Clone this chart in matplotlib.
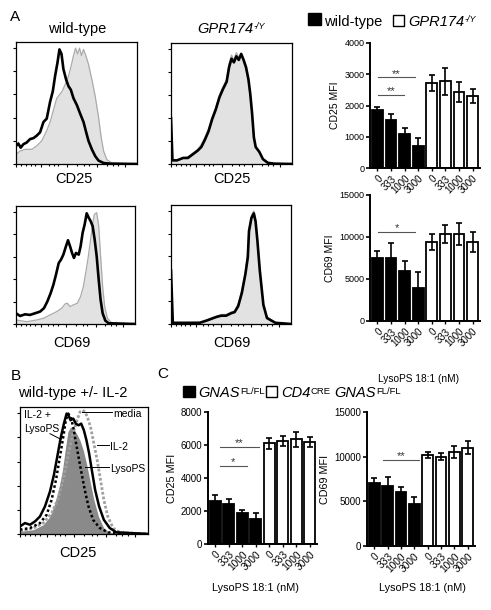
import matplotlib
matplotlib.use("Agg")
import matplotlib.pyplot as plt
import numpy as np
from matplotlib.patches import Rectangle

plt.rcParams['font.family'] = ['Liberation Sans', 'DejaVu Sans']

W, H = 491, 610

## histogram traces (x = fraction of channel range, y = fraction of max)
wt_cd25_lyso = [(0, .148), (.019, .168), (.039, .134), (.061, .162), (.088, .176), (.116, .204),
                (.144, .212), (.171, .232), (.199, .26), (.227, .344), (.254, .372), (.282, .511),
                (.304, .595), (.323, .721), (.343, .832), (.359, .939), (.376, .902), (.392, .777),
                (.414, .693), (.434, .637), (.453, .609), (.475, .539), (.503, .483), (.53, .413),
                (.558, .344), (.58, .26), (.599, .19), (.627, .12), (.655, .064), (.682, .028),
                (.724, .008), (.779, .003), (1, 0)]
wt_cd25_ctrl = [(0, .078), (.033, .106), (.075, .12), (.13, .12), (.171, .148), (.213, .19),
                (.254, .274), (.282, .344), (.309, .441), (.337, .539), (.359, .567), (.381, .595),
                (.406, .651), (.434, .721), (.456, .804), (.475, .888), (.492, .95), (.508, .902),
                (.525, .95), (.541, .888), (.558, .939), (.577, .888), (.599, .818), (.627, .693),
                (.655, .553), (.682, .385), (.704, .218), (.724, .106), (.751, .036), (.793, .008),
                (1, 0)]
ko_cd25_lyso = [(0, .38), (.012, .03), (.05, .03), (.1, .05), (.14, .05), (.18, .08), (.22, .11),
                (.25, .14), (.28, .2), (.31, .27), (.34, .37), (.37, .45), (.4, .55), (.43, .62),
                (.46, .68), (.48, .8), (.5, .87), (.52, .84), (.54, .89), (.56, .86), (.58, .91),
                (.6, .86), (.62, .8), (.64, .7), (.655, .58), (.67, .42), (.685, .22), (.7, .14),
                (.73, .1), (.76, .04), (.8, .01), (.85, .003), (1, 0)]
ko_cd25_ctrl = [(0, .03), (.05, .03), (.1, .05), (.14, .06), (.18, .09), (.22, .12), (.25, .16),
                (.28, .22), (.31, .29), (.34, .39), (.37, .47), (.4, .57), (.43, .64), (.46, .7),
                (.48, .83), (.5, .9), (.52, .86), (.54, .92), (.56, .88), (.58, .9), (.6, .85),
                (.62, .78), (.64, .68), (.655, .56), (.67, .4), (.685, .22), (.7, .14), (.73, .1),
                (.76, .04), (.8, .01), (.85, .003), (1, 0)]
wt_cd69_lyso = [(0, .091), (.034, .068), (.076, .082), (.118, .077), (.16, .091), (.202, .105),
                (.235, .134), (.263, .19), (.291, .261), (.314, .332), (.336, .418), (.359, .517),
                (.378, .545), (.398, .588), (.42, .659), (.437, .71), (.454, .659), (.471, .602),
                (.487, .56), (.504, .602), (.527, .588), (.543, .659), (.56, .773), (.577, .844),
                (.594, .938), (.611, .901), (.627, .872), (.644, .83), (.661, .716), (.678, .574),
                (.695, .375), (.711, .205), (.728, .091), (.751, .028), (.779, .006), (1, 0)]
wt_cd69_ctrl = [(0, .034), (.09, .02), (.174, .034), (.23, .048), (.286, .077), (.342, .105),
                (.384, .134), (.412, .17), (.431, .176), (.454, .148), (.482, .162), (.515, .176),
                (.543, .233), (.566, .318), (.588, .446), (.608, .574), (.627, .716), (.644, .844),
                (.658, .929), (.678, .943), (.695, .83), (.711, .574), (.728, .318), (.745, .148),
                (.768, .048), (.804, .011), (1, 0)]
ko_cd69_lyso = [(0, .45), (.015, .01), (.1, .01), (.24, .01), (.3, .03), (.38, .06), (.42, .07),
                (.46, .07), (.5, .09), (.53, .1), (.56, .15), (.59, .26), (.62, .42), (.64, .56),
                (.65, .78), (.67, .89), (.69, .93), (.705, .86), (.72, .7), (.74, .45), (.77, .16),
                (.8, .05), (.87, .01), (1, 0)]
ko_cd69_ctrl = [(0, .01), (.1, .01), (.24, .015), (.3, .035), (.38, .065), (.42, .08), (.46, .08),
                (.5, .1), (.53, .11), (.56, .17), (.59, .28), (.62, .44), (.64, .6), (.65, .8),
                (.67, .91), (.69, .95), (.705, .88), (.72, .72), (.74, .46), (.77, .17), (.8, .06),
                (.87, .01), (1, 0)]

b_il2_lyso = [(0, .06), (.039, .086), (.078, .073), (.117, .099), (.156, .138), (.195, .217),
              (.234, .334), (.265, .465), (.291, .608), (.317, .752), (.343, .869), (.364, .948),
              (.379, .935), (.395, .896), (.416, .909), (.436, .869), (.457, .856), (.478, .869),
              (.499, .817), (.519, .739), (.54, .634), (.561, .504), (.587, .347), (.618, .217),
              (.655, .112), (.701, .047), (.753, .013), (1, 0)]
b_lyso = [(0, .034), (.078, .047), (.156, .086), (.208, .151), (.247, .269), (.281, .426),
          (.312, .608), (.338, .765), (.358, .896), (.377, .948), (.395, .922), (.416, .843),
          (.436, .726), (.457, .608), (.481, .478), (.506, .347), (.535, .217), (.571, .112),
          (.623, .047), (.688, .013), (1, 0)]
b_media = [(0, .021), (.104, .034), (.182, .073), (.234, .138), (.273, .243), (.306, .373),
           (.332, .504), (.353, .661), (.374, .804), (.395, .843), (.416, .83), (.442, .791),
           (.468, .739), (.494, .661), (.519, .556), (.545, .426), (.577, .269), (.613, .138),
           (.655, .047), (.701, .013), (1, 0)]
b_il2 = [(0, .021), (.104, .047), (.182, .086), (.247, .164), (.299, .282), (.343, .452),
         (.377, .621), (.41, .778), (.442, .883), (.468, .961), (.488, .974), (.509, .961),
         (.53, .909), (.551, .843), (.577, .713), (.603, .582), (.629, .426), (.655, .269),
         (.686, .138), (.727, .047), (.779, .013), (1, 0)]

## bar data
doses = ['0', '333', '1000', '3000']
a_cd25_wt = [1850, 1550, 1100, 700]
a_cd25_wt_err = [100, 180, 180, 250]
a_cd25_ko = [2720, 2780, 2430, 2300]
a_cd25_ko_err = [250, 430, 330, 220]
a_cd69_wt = [7500, 7500, 5900, 3900]
a_cd69_wt_err = [800, 1800, 1200, 1900]
a_cd69_ko = [9400, 10350, 10400, 9400]
a_cd69_ko_err = [900, 1100, 1300, 1200]
c_cd25_fl = [2600, 2440, 1850, 1510]
c_cd25_fl_err = [360, 260, 200, 340]
c_cd25_cre = [6100, 6250, 6350, 6200]
c_cd25_cre_err = [350, 300, 450, 300]
c_cd69_fl = [7000, 6750, 6000, 4700]
c_cd69_fl_err = [600, 1000, 650, 750]
c_cd69_cre = [10200, 10000, 10500, 11000]
c_cd69_cre_err = [350, 400, 700, 700]

fig = plt.figure(figsize=(W / 100, H / 100), dpi=100)
renderer = fig.canvas.get_renderer()


def ax_px(x0, y0, x1, y1):
    return fig.add_axes([x0 / W, 1 - y1 / H, (x1 - x0) / W, (y1 - y0) / H])


def ftext(x, y, s, **kw):
    return fig.text(x / W, 1 - y / H, s, **kw)


def rich_text(x, y, parts, center=False):
    # parts: (text, style, fontsize, raise_px, gap_after_px)
    arts = []
    cur = x
    for s, style, fs, dy, gap in parts:
        t = ftext(cur, y - dy, s, fontsize=fs, fontstyle=style)
        cur += t.get_window_extent(renderer).width + gap
        arts.append(t)
    if center:
        shift = (cur - x) / 2 / W
        for t in arts:
            px, py = t.get_position()
            t.set_position((px - shift, py))


def square(x0, y0, x1, y1, fc):
    fig.add_artist(Rectangle((x0 / W, 1 - y1 / H), (x1 - x0) / W, (y1 - y0) / H,
                             transform=fig.transFigure, facecolor=fc, edgecolor='black', lw=1))


def hist_axes(box):
    ax = ax_px(*box)
    ax.set_xlim(0, 1)
    ax.set_ylim(0, 1)
    for s in ax.spines.values():
        s.set_linewidth(0.9)
    ax.set_yticks([0, .19, .38, .57, .76, .95])
    ax.set_xticks([0, .21, .42, .67, .9])
    ax.set_xticks([.04, .08, .12, .16, .27, .31, .35, .5, .56, .6, .75, .8, .84], minor=True)
    ax.tick_params(which='both', direction='out', labelleft=False, labelbottom=False,
                   width=0.8, length=2.5)
    ax.tick_params(which='minor', length=1.3)
    return ax


def draw_pair(ax, ctrl, lyso):
    cx, cy = zip(*ctrl)
    ax.fill_between(cx, cy, color='#e2e2e2', lw=0)
    ax.plot(cx, cy, color='#aaaaaa', lw=0.9)
    lx, ly = zip(*lyso)
    ax.plot(lx, ly, color='black', lw=1.9)


## panel A histograms
ax1 = hist_axes((16, 42, 137, 164))
draw_pair(ax1, wt_cd25_ctrl, wt_cd25_lyso)
ax2 = hist_axes((171, 43, 292, 164))
draw_pair(ax2, ko_cd25_ctrl, ko_cd25_lyso)
ax3 = hist_axes((16, 206, 135, 324))
draw_pair(ax3, wt_cd69_ctrl, wt_cd69_lyso)
ax4 = hist_axes((171, 205, 291, 324))
draw_pair(ax4, ko_cd69_ctrl, ko_cd69_lyso)

ftext(10, 21, 'A', fontsize=11)
ftext(77, 33, 'wild-type', fontsize=10.5, ha='center')
rich_text(231, 33, [('GPR174', 'italic', 10.5, 0, 0.5), ('-/Y', 'italic', 6.5, 4, 0)], center=True)
ftext(74, 183, 'CD25', fontsize=10.5, ha='center')
ftext(232, 183, 'CD25', fontsize=10.5, ha='center')
ftext(72, 347, 'CD69', fontsize=10.5, ha='center')
ftext(232, 347, 'CD69', fontsize=10.5, ha='center')

## panel B histogram
axb = hist_axes((20, 407, 148, 534))
mx, my = zip(*b_media)
axb.fill_between(mx, my, color='#8a8a8a', lw=0)
ix, iy = zip(*b_il2)
axb.plot(ix, iy, color='#a0a0a0', lw=2.0, ls=(0, (1, 0.7)))
lx, ly = zip(*b_lyso)
axb.plot(lx, ly, color='black', lw=1.8, ls=(0, (1, 1)))
bx, by = zip(*b_il2_lyso)
axb.plot(bx, by, color='black', lw=1.8)

ann = dict(transform=axb.transAxes, fontsize=7.5)
axb.text(0.03, 0.913, 'IL-2 +', **ann)
axb.text(0.03, 0.803, 'LysoPS', **ann)
axb.plot([0.234, 0.32], [0.79, 0.745], color='black', lw=0.7, transform=axb.transAxes)
axb.text(0.727, 0.921, 'media', **ann)
axb.plot([0.484, 0.719], [0.961, 0.961], color='black', lw=0.7, transform=axb.transAxes)
axb.text(0.703, 0.661, 'IL-2', **ann)
axb.plot([0.60, 0.695], [0.70, 0.70], color='black', lw=0.7, transform=axb.transAxes)
axb.text(0.703, 0.488, 'LysoPS', **ann)
axb.plot([0.508, 0.695], [0.528, 0.528], color='black', lw=0.7, transform=axb.transAxes)

ftext(11, 380, 'B', fontsize=11)
ftext(73, 397, 'wild-type +/- IL-2', fontsize=10.5, ha='center')
ftext(78, 557, 'CD25', fontsize=10.5, ha='center')


## bar charts
def bar_axes(box, fl, fl_err, ko, ko_err, ymax, yticks, ylabel, sigs, fs=6.5, xfs=7, lfs=7.5):
    ax = ax_px(*box)
    x = np.arange(8)
    vals = list(fl) + list(ko)
    errs = list(fl_err) + list(ko_err)
    colors = ['black'] * 4 + ['white'] * 4
    ax.bar(x, vals, width=0.8, color=colors, edgecolor='black', linewidth=1.3, yerr=errs,
           error_kw=dict(ecolor='black', elinewidth=1.2, capsize=2.2, capthick=1.2))
    ax.set_xlim(-0.55, 7.55)
    ax.set_ylim(0, ymax)
    ax.set_yticks(yticks)
    ax.set_xticks(x)
    ax.set_xticklabels(doses * 2, rotation=45, ha='right', rotation_mode='anchor', fontsize=xfs)
    ax.tick_params(axis='y', direction='out', length=3, width=1.2, labelsize=fs, pad=1)
    ax.tick_params(axis='x', direction='out', length=2.5, width=1.0, pad=1.5)
    ax.spines['top'].set_visible(False)
    ax.spines['right'].set_visible(False)
    ax.spines['left'].set_linewidth(1.4)
    ax.spines['bottom'].set_linewidth(1.4)
    ax.set_ylabel(ylabel, fontsize=lfs, labelpad=3)
    for x0, x1, yv, lab in sigs:
        ax.plot([x0, x1], [yv, yv], color='#555555', lw=0.8)
        ax.annotate(lab, ((x0 + x1) / 2, yv), xytext=(0, 0.5), textcoords='offset points',
                    ha='center', va='baseline', fontsize=8, color='#333333')
    return ax


bar_axes((370, 43, 480, 168), a_cd25_wt, a_cd25_wt_err, a_cd25_ko, a_cd25_ko_err,
         4000, [0, 1000, 2000, 3000, 4000], 'CD25 MFI',
         [(0.04, 2.76, 2900, '**'), (0.04, 1.95, 2350, '**')])
bar_axes((370, 195, 480, 321), a_cd69_wt, a_cd69_wt_err, a_cd69_ko, a_cd69_ko_err,
         15000, [0, 5000, 10000, 15000], 'CD69 MFI',
         [(0.04, 2.76, 10600, '*')])
ftext(418, 382, 'LysoPS 18:1 (nM)', fontsize=7.3, ha='center')

bar_axes((208, 412, 317, 544), c_cd25_fl, c_cd25_fl_err, c_cd25_cre, c_cd25_cre_err,
         8000, [0, 2000, 4000, 6000, 8000], 'CD25 MFI',
         [(0.34, 3.24, 5880, '**'), (0.34, 2.33, 4730, '*')], fs=7, xfs=7.3, lfs=7.8)
bar_axes((367, 412, 475, 546), c_cd69_fl, c_cd69_fl_err, c_cd69_cre, c_cd69_cre_err,
         15000, [0, 5000, 10000, 15000], 'CD69 MFI',
         [(0.65, 3.35, 9670, '**')], fs=7, xfs=7.3, lfs=7.8)
ftext(255, 591, 'LysoPS 18:1 (nM)', fontsize=7.8, ha='center')
ftext(422, 591, 'LysoPS 18:1 (nM)', fontsize=7.8, ha='center')

## legends
square(308, 13, 321, 25, 'black')
ftext(324, 26, 'wild-type', fontsize=10.5)
square(393, 15, 404, 26, 'white')
rich_text(408, 26, [('GPR174', 'italic', 10.5, 0, 0.5), ('-/Y', 'italic', 6.5, 4, 0)])

ftext(157, 378, 'C', fontsize=11)
square(183, 386, 195, 397, 'black')
rich_text(198, 397, [('GNAS', 'italic', 10.5, 0, 0.5), ('FL/FL', 'normal', 6.8, 3.5, 0)])
square(266, 386, 277, 397, 'white')
rich_text(281, 397, [('CD4', 'italic', 10.5, 0, 0.5), ('CRE', 'normal', 6.8, 3.5, 3),
                     ('GNAS', 'italic', 10.5, 0, 0.5), ('FL/FL', 'normal', 6.8, 3.5, 0)])

fig.savefig('out.png', dpi=100)
